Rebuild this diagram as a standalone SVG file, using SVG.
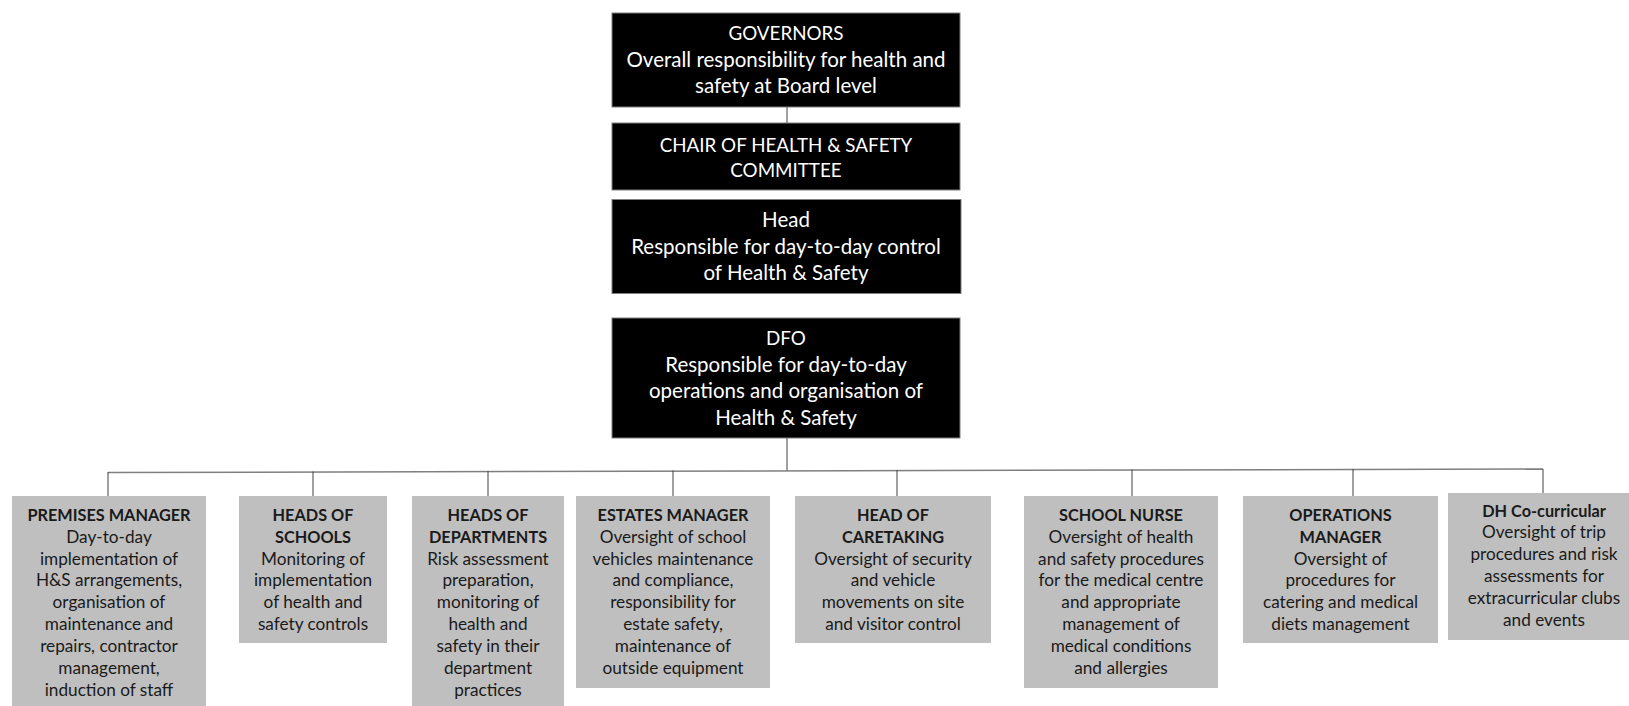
<svg xmlns="http://www.w3.org/2000/svg" width="1629" height="706" viewBox="0 0 1629 706">
<style>
.top rect{fill:#000;stroke:#7f7f7f;stroke-width:1}
.top text{font-family:Lato,"Liberation Sans",sans-serif;font-size:20.5px;fill:#fff;text-anchor:middle}
.top .c{font-size:18.8px}
.low rect{fill:#bfbfbf}
.low text{font-family:Lato,"Liberation Sans",sans-serif;font-size:17.2px;fill:#1a1a1a;text-anchor:middle}
.low .b{font-weight:bold;font-size:16.3px}
.conn line{stroke:#404040;stroke-width:1}
.conn .bar{stroke:#7f7f7f;stroke-width:1.5}
</style>
<rect width="1629" height="706" fill="#fff"/>
<g class="conn" id="connectors">
<line x1="787" y1="107" x2="787" y2="123"/>
<line x1="787" y1="438" x2="787" y2="471"/>
<line class="bar" x1="108" y1="472.5" x2="1543" y2="469"/>
<line x1="108" y1="472" x2="108" y2="496"/>
<line x1="313" y1="471.5" x2="313" y2="496"/>
<line x1="488" y1="471" x2="488" y2="496"/>
<line x1="673" y1="470.5" x2="673" y2="496"/>
<line x1="897" y1="470" x2="897" y2="496"/>
<line x1="1132" y1="469.5" x2="1132" y2="496"/>
<line x1="1353" y1="469" x2="1353" y2="496"/>
<line x1="1543" y1="469" x2="1543" y2="493"/>
</g>
<g class="top" id="governors">
<rect x="612" y="13" width="348" height="94"/>
<text x="786" y="40" class="c">GOVERNORS</text>
<text x="786" y="67">Overall responsibility for health and</text>
<text x="786" y="93">safety at Board level</text>
</g>
<g class="top" id="chair">
<rect x="612" y="123" width="348" height="67"/>
<text x="786" y="151.5" class="c">CHAIR OF HEALTH &amp; SAFETY</text>
<text x="786" y="177" class="c">COMMITTEE</text>
</g>
<g class="top" id="head">
<rect x="612" y="199.5" width="349" height="94"/>
<text x="786" y="227">Head</text>
<text x="786" y="253.5">Responsible for day-to-day control</text>
<text x="786" y="280">of Health &amp; Safety</text>
</g>
<g class="top" id="dfo">
<rect x="612" y="318" width="348" height="120"/>
<text x="786" y="345" class="c">DFO</text>
<text x="786" y="371.5">Responsible for day-to-day</text>
<text x="786" y="398">operations and organisation of</text>
<text x="786" y="425">Health &amp; Safety</text>
</g>
<g class="low" id="premises">
<rect x="12" y="496" width="194" height="215"/>
<text x="109" y="520.7" class="b">PREMISES MANAGER</text>
<text x="109" y="542.6">Day-to-day</text>
<text x="109" y="564.5">implementation of</text>
<text x="109" y="586.4">H&amp;S arrangements,</text>
<text x="109" y="608.3">organisation of</text>
<text x="109" y="630.2">maintenance and</text>
<text x="109" y="652.1">repairs, contractor</text>
<text x="109" y="674">management,</text>
<text x="109" y="695.9">induction of staff</text>
</g>
<g class="low" id="heads-of-schools">
<rect x="239" y="496" width="148" height="147"/>
<text x="313" y="520.7" class="b">HEADS OF</text>
<text x="313" y="542.6" class="b">SCHOOLS</text>
<text x="313" y="564.5">Monitoring of</text>
<text x="313" y="586.4">implementation</text>
<text x="313" y="608.3">of health and</text>
<text x="313" y="630.2">safety controls</text>
</g>
<g class="low" id="heads-of-departments">
<rect x="412" y="496" width="152" height="215"/>
<text x="488" y="520.7" class="b">HEADS OF</text>
<text x="488" y="542.6" class="b">DEPARTMENTS</text>
<text x="488" y="564.5">Risk assessment</text>
<text x="488" y="586.4">preparation,</text>
<text x="488" y="608.3">monitoring of</text>
<text x="488" y="630.2">health and</text>
<text x="488" y="652.1">safety in their</text>
<text x="488" y="674">department</text>
<text x="488" y="695.9">practices</text>
</g>
<g class="low" id="estates-manager">
<rect x="576" y="496" width="194" height="192"/>
<text x="673" y="520.7" class="b">ESTATES MANAGER</text>
<text x="673" y="542.6">Oversight of school</text>
<text x="673" y="564.5">vehicles maintenance</text>
<text x="673" y="586.4">and compliance,</text>
<text x="673" y="608.3">responsibility for</text>
<text x="673" y="630.2">estate safety,</text>
<text x="673" y="652.1">maintenance of</text>
<text x="673" y="674">outside equipment</text>
</g>
<g class="low" id="head-of-caretaking">
<rect x="795" y="496" width="196" height="147"/>
<text x="893" y="520.7" class="b">HEAD OF</text>
<text x="893" y="542.6" class="b">CARETAKING</text>
<text x="893" y="564.5">Oversight of security</text>
<text x="893" y="586.4">and vehicle</text>
<text x="893" y="608.3">movements on site</text>
<text x="893" y="630.2">and visitor control</text>
</g>
<g class="low" id="school-nurse">
<rect x="1024" y="496" width="194" height="192"/>
<text x="1121" y="520.7" class="b">SCHOOL NURSE</text>
<text x="1121" y="542.6">Oversight of health</text>
<text x="1121" y="564.5">and safety procedures</text>
<text x="1121" y="586.4">for the medical centre</text>
<text x="1121" y="608.3">and appropriate</text>
<text x="1121" y="630.2">management of</text>
<text x="1121" y="652.1">medical conditions</text>
<text x="1121" y="674">and allergies</text>
</g>
<g class="low" id="operations-manager">
<rect x="1243" y="496" width="195" height="147"/>
<text x="1340.5" y="520.7" class="b">OPERATIONS</text>
<text x="1340.5" y="542.6" class="b">MANAGER</text>
<text x="1340.5" y="564.5">Oversight of</text>
<text x="1340.5" y="586.4">procedures for</text>
<text x="1340.5" y="608.3">catering and medical</text>
<text x="1340.5" y="630.2">diets management</text>
</g>
<g class="low" id="dh-co-curricular">
<rect x="1448" y="493" width="195" height="147"/>
<text x="1544" y="516.5" class="b">DH Co-curricular</text>
<text x="1544" y="538.4">Oversight of trip</text>
<text x="1544" y="560.3">procedures and risk</text>
<text x="1544" y="582.2">assessments for</text>
<text x="1544" y="604.1">extracurricular clubs</text>
<text x="1544" y="626">and events</text>
</g>
</svg>
